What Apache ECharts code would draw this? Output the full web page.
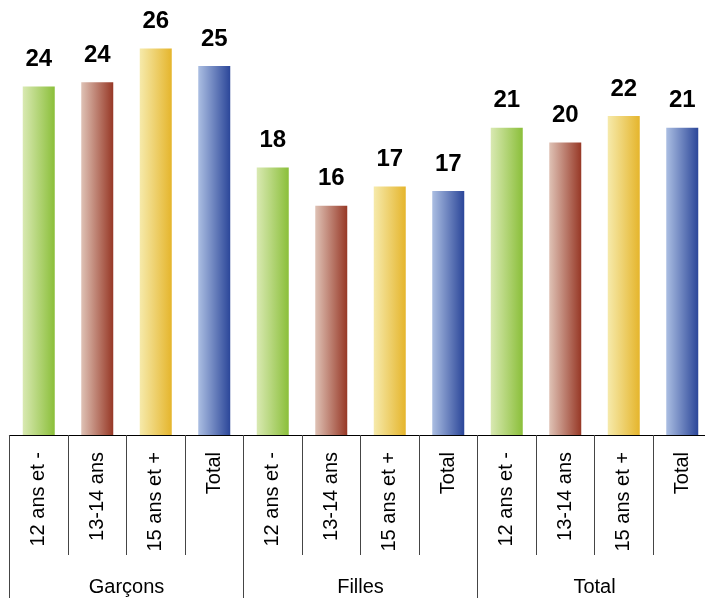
<!DOCTYPE html>
<html>
<head>
<meta charset="utf-8">
<script src="https://cdn.jsdelivr.net/npm/echarts@6/dist/echarts.min.js"></script>
<style>
html,body{margin:0;padding:0;background:#fff;overflow:hidden;width:705px;height:598px;}
#chart{width:712px;height:598px;}
</style>
</head>
<body>
<div id="chart"></div>
<script>
// Data
const ageCategories = ['12 ans et -', '13-14 ans', '15 ans et +', 'Total'];
const groups = ['Garçons', 'Filles', 'Total'];
const garconsValues = [23.7, 24.0, 26.3, 25.1];
const fillesValues = [18.2, 15.6, 16.9, 16.6];
const totalValues = [20.9, 19.9, 21.7, 20.9];

// Styling
const gradientColors = [
  ['#d9e9b2', '#8bbf3a'],
  ['#dfc2b5', '#973826'],
  ['#f6eaab', '#e5b52c'],
  ['#abbee2', '#2b4699']
];

const categories = [];
groups.forEach(() => ageCategories.forEach(a => categories.push(a)));
const allValues = [].concat(garconsValues, fillesValues, totalValues);

const barData = allValues.map((v, i) => {
  const c = gradientColors[i % 4];
  return {
    value: v,
    itemStyle: {
      color: new echarts.graphic.LinearGradient(0, 0, 1, 0, [
        { offset: 0, color: c[0] },
        { offset: 1, color: c[1] }
      ])
    }
  };
});

const font = 'Liberation Sans, Arial, sans-serif';
const chart = echarts.init(document.getElementById('chart'), null, { renderer: 'canvas' });
chart.setOption({
  animation: false,
  backgroundColor: '#ffffff',
  grid: { left: 9.5, right: 0.5, top: 23.4, bottom: 163, containLabel: false },
  xAxis: [
    {
      type: 'category',
      data: categories,
      position: 'bottom',
      axisLine: { show: true, lineStyle: { color: '#000', width: 1.2 } },
      axisTick: { show: true, interval: 0, length: 120, lineStyle: { color: '#454545', width: 1 } },
      axisLabel: {
        interval: 0, rotate: 90, margin: 17,
        fontSize: 20, fontFamily: font, color: '#000'
      },
      splitLine: { show: false }
    },
    {
      type: 'category',
      data: groups,
      position: 'bottom',
      axisLine: { show: false },
      axisTick: { show: true, interval: 0, length: 163, lineStyle: { color: '#454545', width: 1 } },
      axisLabel: {
        interval: 0, margin: 142,
        fontSize: 20, fontFamily: font, color: '#000'
      },
      splitLine: { show: false }
    }
  ],
  yAxis: {
    type: 'value', min: 0, max: 28, show: false,
    splitLine: { show: false }
  },
  series: [
    {
      type: 'bar',
      xAxisIndex: 0,
      data: barData,
      barWidth: 32,
      label: {
        show: true,
        position: 'top',
        distance: 15,
        fontSize: 24,
        fontWeight: 'bold',
        fontFamily: font,
        color: '#000',
        formatter: p => Math.round(p.value)
      }
    }
  ]
});
</script>
</body>
</html>
